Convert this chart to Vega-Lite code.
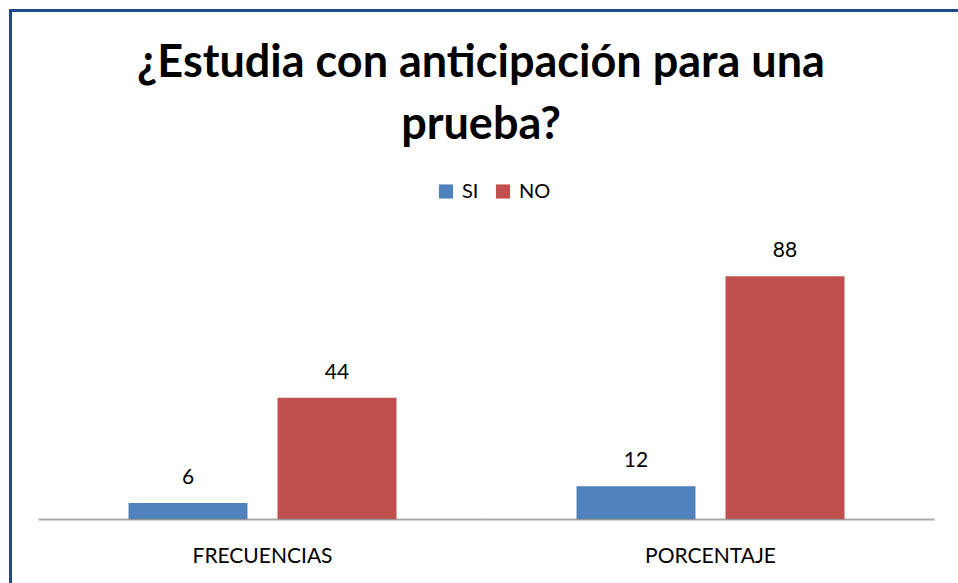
{
  "$schema": "https://vega.github.io/schema/vega-lite/v6.json",
  "autosize": "none",
  "width": 952,
  "height": 580,
  "padding": {"left": 10.5, "top": 10.5, "right": 0, "bottom": 0},
  "background": "white",
  "config": {
    "view": {"stroke": "#1F4A85", "strokeWidth": 3},
    "font": "Lato"
  },
  "title": {
    "text": ["¿Estudia con anticipación para una", "prueba?"],
    "font": "Lato",
    "fontSize": 45,
    "fontWeight": "bold",
    "color": "black",
    "anchor": "middle",
    "frame": "group",
    "baseline": "top",
    "lineHeight": 62,
    "offset": -137,
    "dx": -5.5
  },
  "data": {
    "values": [
      {"categoria": "FRECUENCIAS", "respuesta": "SI", "valor": 6},
      {"categoria": "FRECUENCIAS", "respuesta": "NO", "valor": 44},
      {"categoria": "PORCENTAJE", "respuesta": "SI", "valor": 12},
      {"categoria": "PORCENTAJE", "respuesta": "NO", "valor": 88}
    ]
  },
  "layer": [
    {
      "mark": {"type": "bar"},
      "encoding": {
        "x": {
          "field": "categoria",
          "type": "nominal",
          "sort": ["FRECUENCIAS", "PORCENTAJE"],
          "scale": {"paddingInner": 0, "paddingOuter": 0.0625, "align": 0.5},
          "axis": {
            "orient": "bottom",
            "offset": -71,
            "title": null,
            "domain": false,
            "ticks": false,
            "labelAngle": 0,
            "labelFont": "Lato",
            "labelFontSize": 21,
            "labelColor": "black",
            "labelPadding": 26
          }
        },
        "y": {
          "field": "valor",
          "type": "quantitative",
          "scale": {"domain": [-25.68, 184.09], "nice": false, "zero": false},
          "axis": null
        },
        "xOffset": {
          "field": "respuesta",
          "type": "nominal",
          "sort": ["SI", "NO"],
          "scale": {"paddingInner": 0.2013, "paddingOuter": 0.604}
        },
        "color": {
          "field": "respuesta",
          "type": "nominal",
          "scale": {"domain": ["SI", "NO"], "range": ["#4F81BD", "#C0504D"]},
          "legend": {
            "orient": "none",
            "legendX": 425.5,
            "legendY": 171,
            "direction": "horizontal",
            "title": null,
            "symbolType": "square",
            "symbolSize": 200,
            "symbolStrokeWidth": 0,
            "labelFont": "Lato",
            "labelFontSize": 20,
            "labelColor": "black",
            "labelOffset": 6,
            "columnPadding": 14
          }
        }
      }
    },
    {
      "mark": {"type": "text", "baseline": "alphabetic", "dy": -19, "fontSize": 21, "font": "Lato", "color": "black"},
      "encoding": {
        "x": {"field": "categoria", "type": "nominal", "sort": ["FRECUENCIAS", "PORCENTAJE"]},
        "y": {"field": "valor", "type": "quantitative"},
        "xOffset": {"field": "respuesta", "type": "nominal", "sort": ["SI", "NO"]},
        "text": {"field": "valor", "type": "quantitative"}
      }
    },
    {
      "data": {"values": [{"categoria": "FRECUENCIAS"}, {"categoria": "PORCENTAJE"}]},
      "mark": {"type": "tick", "color": "#868686", "thickness": 2, "size": 448, "orient": "horizontal"},
      "encoding": {
        "x": {"field": "categoria", "type": "nominal", "sort": ["FRECUENCIAS", "PORCENTAJE"]},
        "y": {"datum": 0}
      }
    }
  ]
}
